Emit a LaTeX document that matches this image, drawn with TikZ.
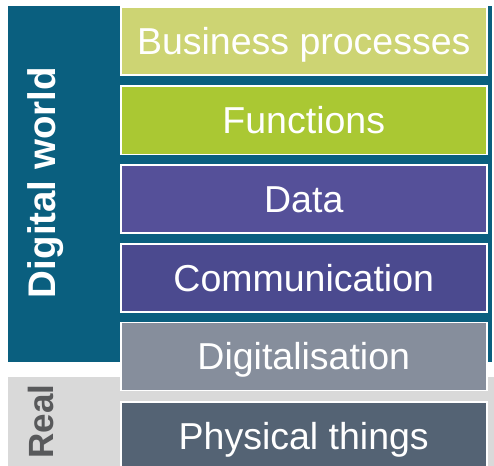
\documentclass[tikz,border=0pt]{standalone}
\usepackage{fontspec}
\setmainfont{Liberation Sans}
\definecolor{teal0}{HTML}{0A5F7F}
\definecolor{realgray}{HTML}{D9D9D9}
\definecolor{realtext}{HTML}{58595B}
\definecolor{cbp}{HTML}{CDD473}
\definecolor{cfn}{HTML}{AAC833}
\definecolor{cdata}{HTML}{555099}
\definecolor{ccomm}{HTML}{4B4A8F}
\definecolor{cdig}{HTML}{868E9C}
\definecolor{cphys}{HTML}{546374}
\tikzset{
  layer/.style={draw=white, line width=1.5pt, minimum width=366pt, minimum height=68pt,
    inner sep=0pt, text height=27pt, text depth=0pt, text=white,
    font=\fontsize{37.5}{40}\selectfont, anchor=north west},
  sidelabel/.style={rotate=90, anchor=base, inner sep=0pt}
}
\begin{document}
\begin{tikzpicture}[x=1pt,y=-1pt]
\useasboundingbox (0,0) rectangle (494,465);
\clip (0,0) rectangle (494,465);
\fill[teal0] (8,6) rectangle (492,362);
\fill[realgray] (8,377) rectangle (494,470);
\node[sidelabel, text=white, font=\fontsize{38.5}{40}\selectfont\bfseries] (dw) at (55,182.5) {Digital world};
\node[sidelabel, text=realtext, font=\fontsize{35}{38}\selectfont\bfseries] (real) at (53,421.5) {Real};
\node[layer, fill=cbp] (bp) at (120,6.5) {Business processes};
\node[layer, fill=cfn] (fn) at (120,85.5) {Functions};
\node[layer, fill=cdata] (data) at (120,164) {Data};
\node[layer, fill=ccomm] (comm) at (120,243) {Communication};
\node[layer, fill=cdig] (dig) at (120,321.5) {Digitalisation};
\node[layer, fill=cphys] (phys) at (120,401) {Physical things};
\end{tikzpicture}
\end{document}
